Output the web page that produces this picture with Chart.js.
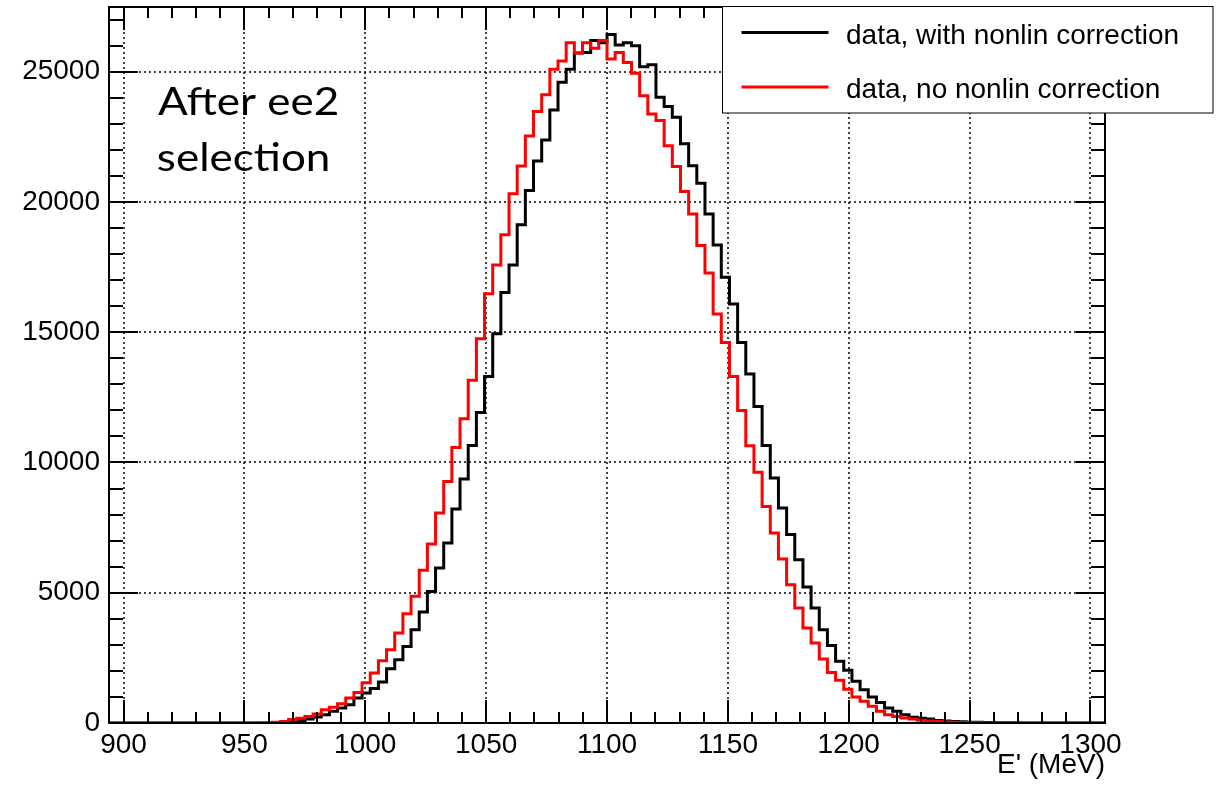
<!DOCTYPE html>
<html><head><meta charset="utf-8">
<script src="https://cdn.jsdelivr.net/npm/chart.js@4.4.1/dist/chart.umd.min.js"></script>
<style>html,body{margin:0;padding:0;background:#fff}#wrap{width:1224px;height:788px;position:relative}</style>
</head><body><div id="wrap"><canvas id="c" width="1224" height="788"></canvas></div>
<script>
// Histogram range (MeV) and bin contents (122 bins)
const histLow = 894, histHigh = 1306;
const withCorr = [
0,0,0,0,0,0,0,0,0,0, 0,0,0,0,0,0,0,0,0,0, 0,
10,30,60,100,150,230,320,450,580,
700,960,1150,1320,1570,2080,2430,2940,3580,4260,
5050,5950,6910,8210,9360,10650,11920,13300,14940,16520,
17580,19120,20440,21570,22380,23530,24590,25090,25710,25730,
26190,26110,26420,26020,26110,25990,25190,25260,24020,23660,
23250,22230,21390,20720,19540,18350,17110,16080,14600,13390,
12150,10650,9400,8250,7230,6270,5220,4410,3580,2970,
2370,2020,1600,1280,1000,790,580,450,320,220,
180,150,100,75,60,45,30,25,15,10,
8,5,0,0,0,0,0,0,0,0,0,0
];
const noCorr = [
0,0,0,0,0,0,0,0,0,0, 0,0,0,0,0,0,0,0,0,0,
10,30,60,130,180,250,350,510,600,740,
960,1170,1540,1920,2390,2810,3450,4190,4860,5860,
6870,8060,9270,10570,11680,13150,14750,16470,17580,18740,
20310,21380,22530,23470,24110,25090,25410,26110,25710,26110,
25900,26190,25480,25730,25350,24940,24070,23370,23120,22150,
21360,20400,19540,18330,17270,15700,14600,13300,11990,10640,
9620,8310,7290,6290,5310,4410,3650,3070,2460,1940,
1640,1300,1000,830,640,450,320,250,190,150,
110,80,55,40,25,15,10,5,
0,0,0,0,0,0,0,0,0,0,0,0,0,0
];
const seriesLabels = ['data, with nonlin correction', 'data, no nonlin correction'];
const seriesColors = ['#000000', '#ff0000'];
const xMajorTicks = [900, 950, 1000, 1050, 1100, 1150, 1200, 1250, 1300];
const yMajorTicks = [0, 5000, 10000, 15000, 20000, 25000];
const yMax = 27480;
const xMinorStep = 10, yMinorStep = 1000;
const xTitle = "E' (MeV)";
const noteLines = ['After ee2', 'selection'];

const FONT = "'Liberation Sans', Arial, Helvetica, sans-serif";

function toSteps(counts) {
  const w = (histHigh - histLow) / counts.length;
  const pts = counts.map((c, k) => ({x: histLow + k * w, y: c}));
  pts.push({x: histHigh, y: counts[counts.length - 1]});
  return pts;
}

const rootStyle = {
  id: 'rootStyle',
  beforeDatasetsDraw(chart) {
    const {ctx, chartArea: a, scales: {x, y}} = chart;
    ctx.save();
    ctx.strokeStyle = '#000';
    ctx.lineWidth = 1.5;
    ctx.setLineDash([2, 3]);
    xMajorTicks.forEach(v => {
      const px = Math.round(x.getPixelForValue(v));
      ctx.beginPath(); ctx.moveTo(px, a.top); ctx.lineTo(px, a.bottom); ctx.stroke();
    });
    yMajorTicks.forEach(v => {
      if (v === 0) return;
      const py = Math.round(y.getPixelForValue(v));
      ctx.beginPath(); ctx.moveTo(a.left, py); ctx.lineTo(a.right, py); ctx.stroke();
    });
    ctx.restore();
  },
  afterDatasetsDraw(chart) {
    const {ctx, chartArea: a, scales: {x, y}} = chart;
    ctx.save();
    ctx.strokeStyle = '#000';
    ctx.lineWidth = 2;
    ctx.setLineDash([]);
    ctx.strokeRect(a.left, a.top, a.right - a.left, a.bottom - a.top);
    // x ticks (bottom & top)
    for (let v = xMajorTicks[0]; v <= xMajorTicks[xMajorTicks.length - 1]; v += xMinorStep) {
      const px = Math.round(x.getPixelForValue(v));
      const len = xMajorTicks.includes(v) ? 23 : 11;
      ctx.beginPath();
      ctx.moveTo(px, a.bottom); ctx.lineTo(px, a.bottom - len);
      ctx.moveTo(px, a.top); ctx.lineTo(px, a.top + len);
      ctx.stroke();
    }
    // y ticks (left & right)
    for (let v = 0; v <= yMax; v += yMinorStep) {
      const py = Math.round(y.getPixelForValue(v));
      const len = yMajorTicks.includes(v) ? 29 : 14;
      ctx.beginPath();
      ctx.moveTo(a.left, py); ctx.lineTo(a.left + len, py);
      ctx.moveTo(a.right, py); ctx.lineTo(a.right - len, py);
      ctx.stroke();
    }
    // annotation text (Calibri-like)
    ctx.fillStyle = '#000';
    ctx.font = "38px Lato, 'Open Sans', sans-serif";
    ctx.textBaseline = 'alphabetic';
    ctx.textAlign = 'left';
    const m0 = ctx.measureText(noteLines[0]);
    const ink0 = m0.actualBoundingBoxLeft + m0.actualBoundingBoxRight;
    const sx = 179 / ink0;
    const baselines = [115, 171];
    noteLines.forEach((t, i) => {
      const m = ctx.measureText(t);
      ctx.save();
      ctx.translate(158, baselines[i]);
      ctx.scale(sx, 1);
      ctx.fillText(t, m.actualBoundingBoxLeft, 0);
      ctx.restore();
    });
    // legend
    const L = {x: 722.5, y: 6.5, w: 490.5, h: 106.5};
    ctx.fillStyle = '#fff';
    ctx.fillRect(L.x, L.y, L.w, L.h);
    ctx.lineWidth = 1;
    ctx.strokeStyle = '#000';
    ctx.strokeRect(L.x, L.y, L.w, L.h);
    const rows = [{ly: 32.5, by: 43.5}, {ly: 87, by: 97.5}];
    ctx.font = '28px ' + FONT;
    chart.data.datasets.forEach((ds, i) => {
      ctx.strokeStyle = ds.borderColor;
      ctx.lineWidth = 3;
      ctx.beginPath(); ctx.moveTo(741.5, rows[i].ly); ctx.lineTo(828.5, rows[i].ly); ctx.stroke();
      ctx.fillStyle = '#000';
      ctx.fillText(ds.label, 846, rows[i].by);
    });
    ctx.restore();
  }
};

new Chart(document.getElementById('c'), {
  type: 'line',
  data: {
    datasets: [
      {label: seriesLabels[0], data: toSteps(withCorr), borderColor: seriesColors[0], borderWidth: 3,
       pointRadius: 0, stepped: 'after', fill: false, order: 1},
      {label: seriesLabels[1], data: toSteps(noCorr), borderColor: seriesColors[1], borderWidth: 3,
       pointRadius: 0, stepped: 'after', fill: false, order: 0}
    ]
  },
  options: {
    responsive: false, animation: false, devicePixelRatio: 1,
    layout: {padding: {left: 0, right: 119, top: 7, bottom: 0}},
    plugins: {legend: {display: false}, tooltip: {enabled: false}},
    scales: {
      x: {
        type: 'linear', min: histLow, max: histHigh,
        afterFit(s) { s.height = 65; s.paddingLeft = 0; s.paddingRight = 0; },
        afterBuildTicks(s) { s.ticks = xMajorTicks.map(v => ({value: v})); },
        grid: {display: false, drawTicks: false},
        border: {display: false},
        ticks: {padding: 5, color: '#000', maxRotation: 0, autoSkip: false,
                font: {family: FONT, size: 28}, callback: v => String(v)},
        title: {display: true, text: xTitle, align: 'end', color: '#000',
                font: {family: FONT, size: 28}, padding: {top: 0, bottom: 6}}
      },
      y: {
        type: 'linear', min: 0, max: yMax,
        afterFit(s) { s.width = 109; s.paddingTop = 0; s.paddingBottom = 0; },
        afterBuildTicks(s) { s.ticks = yMajorTicks.map(v => ({value: v})); },
        grid: {display: false, drawTicks: false},
        border: {display: false},
        ticks: {padding: 9, color: '#000', autoSkip: false,
                font: {family: FONT, size: 28}, callback: v => String(v)}
      }
    }
  },
  plugins: [rootStyle]
});
</script></body></html>
